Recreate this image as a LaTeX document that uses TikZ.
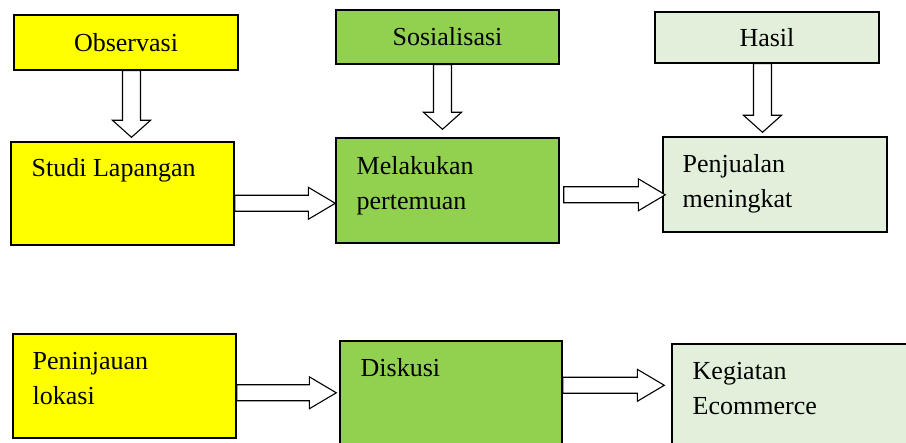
\documentclass[tikz,border=0pt]{standalone}
\usepackage{fontspec}
\setmainfont{Liberation Serif}
\usetikzlibrary{calc}

\definecolor{boxyellow}{HTML}{FFFF00}
\definecolor{boxgreen}{HTML}{92D050}
\definecolor{boxpale}{HTML}{E2EFDA}

\newcommand\hblock[2]{%
  \draw[blockline] let \p1=(#1), \p2=(#2) in
    (\x1,\y1+4pt) -- (\x2-13.5pt,\y1+4pt) -- (\x2-13.5pt,\y1+8pt) -- (\x2,\y1)
    -- (\x2-13.5pt,\y1-8pt) -- (\x2-13.5pt,\y1-4pt) -- (\x1,\y1-4pt) -- cycle;}
\newcommand\vblock[2]{%
  \draw[blockline] let \p1=(#1), \p2=(#2) in
    (\x1-4.5pt,\y1) -- (\x1-4.5pt,\y2+8.5pt) -- (\x1-9.5pt,\y2+8.5pt) -- (\x1,\y2)
    -- (\x1+9.5pt,\y2+8.5pt) -- (\x1+4.5pt,\y2+8.5pt) -- (\x1+4.5pt,\y1) -- cycle;}

\begin{document}
\begin{tikzpicture}[x=0.5pt, y=-0.5pt,
  box/.style={draw=black, line width=0.7pt, rectangle, inner sep=0pt, font=\fontsize{13}{17.5}\selectfont},
  boxtext/.style={anchor=base west, inner sep=0pt, align=left, font=\fontsize{13}{17.5}\selectfont},
  blockline/.style={draw=black, fill=white, line width=0.55pt, line join=miter}]
\useasboundingbox (0,0) rectangle (906,443);
\clip (0,0) rectangle (906,443);

\node[box, fill=boxyellow, minimum width=112pt, minimum height=27.5pt] (obs) at (126,42.5) {Observasi};
\node[box, fill=boxyellow, minimum width=111.5pt, minimum height=51.5pt] (studi) at (122.5,193.5) {};
\node[box, fill=boxgreen, minimum width=111.5pt, minimum height=27pt] (sos) at (447.5,37) {Sosialisasi};
\node[box, fill=boxgreen, minimum width=111.5pt, minimum height=52.5pt] (mel) at (447.5,190.5) {};
\node[box, fill=boxpale, minimum width=112pt, minimum height=25.5pt] (hasil) at (767,37.5) {Hasil};
\node[box, fill=boxpale, minimum width=112pt, minimum height=47.5pt] (penj) at (775,184.5) {};
\node[box, fill=boxyellow, minimum width=111.5pt, minimum height=52pt] (penin) at (124.5,386) {};
\node[box, fill=boxgreen, minimum width=111pt, minimum height=64.5pt] (disk) at (451,405.5) {};
\node[box, fill=boxpale, minimum width=124pt, minimum height=63pt] (keg) at (796,407) {};

\node[boxtext] (studi-t) at ($(studi.north west)+(21,35)$) {Studi Lapangan};
\node[boxtext] (mel-t) at ($(mel.north west)+(21,72)$) {Melakukan\\pertemuan};
\node[boxtext] (penj-t) at ($(penj.north west)+(20,71)$) {Penjualan\\meningkat};
\node[boxtext] (penin-t) at ($(penin.north west)+(20,71)$) {Peninjauan\\lokasi};
\node[boxtext] (disk-t) at ($(disk.north west)+(21,36)$) {Diskusi};
\node[boxtext] (keg-t) at ($(keg.north west)+(21,71)$) {Kegiatan\\Ecommerce};

\vblock{$(obs.south)+(5.5,0)$}{$(studi.north)+(0,-4)$}
\vblock{$(sos.south)+(-5,0)$}{$(mel.north)+(0,-8)$}
\vblock{$(hasil.south)+(-4.5,0)$}{$(penj.north)+(0,-4)$}
\hblock{$(studi.north east)+(0,62)$}{mel.west}
\hblock{$(mel.north east)+(4,57.5)$}{$(penj.west)+(3,0)$}
\hblock{$(penin.north east)+(0,59.5)$}{$(disk.west)+(-3,0)$}
\hblock{$(disk.north east)+(0,45)$}{$(keg.west)+(-7,0)$}
\end{tikzpicture}
\end{document}
